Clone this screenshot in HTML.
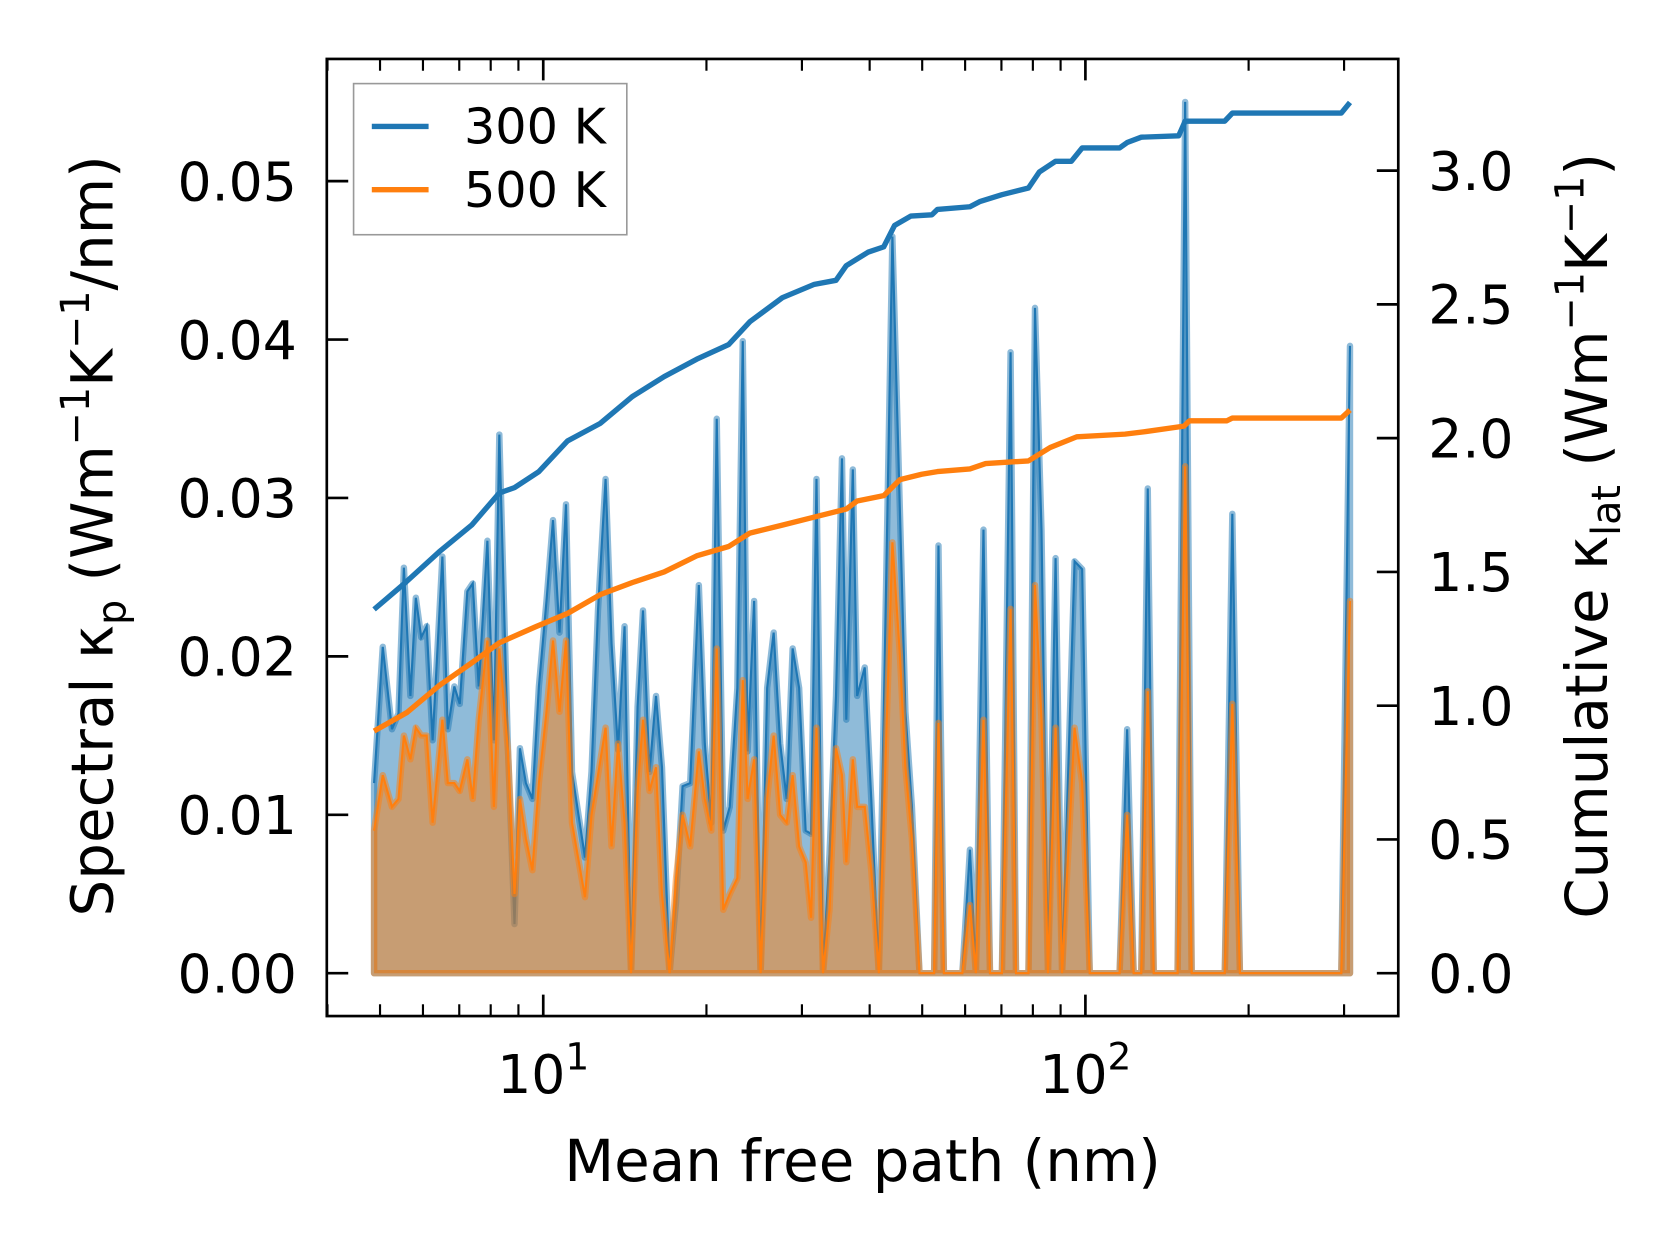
<!DOCTYPE html>
<html><head><meta charset="utf-8"><style>
html,body{margin:0;padding:0;background:#fff;}
svg{display:block;font-family:"DejaVu Sans","Liberation Sans",sans-serif;}
</style></head><body>
<svg id="chart" width="1679" height="1254" viewBox="0 0 1567 1170" preserveAspectRatio="none" xmlns="http://www.w3.org/2000/svg">
<g id="marks"></g>
<g id="axes"></g>
<rect x="305" y="55" width="1000" height="893" fill="none" stroke="#000" stroke-width="2.5"/>
<g>
<rect x="330" y="78" width="255" height="141" fill="#fff" fill-opacity="0.8" stroke="#999" stroke-width="1.5"/>
<line x1="347" y1="118" x2="400" y2="118" stroke="#1f77b4" stroke-width="5"/>
<text x="433" y="134" font-size="46">300 K</text>
<line x1="347" y1="177" x2="400" y2="177" stroke="#ff7f0e" stroke-width="5"/>
<text x="433" y="193" font-size="46">500 K</text>
</g>
<text x="805" y="1102" font-size="54" text-anchor="middle">Mean free path (nm)</text>
<text transform="translate(105,500) rotate(-90)" font-size="54" text-anchor="middle">Spectral κ<tspan font-size="37" dy="12">p</tspan><tspan dy="-12"> (Wm</tspan><tspan font-size="37" dy="-22">−1</tspan><tspan dy="22">K</tspan><tspan font-size="37" dy="-22">−1</tspan><tspan dy="22">/nm)</tspan></text>
<text transform="translate(1500,500) rotate(-90)" font-size="54" text-anchor="middle">Cumulative κ<tspan font-size="37" dy="12">lat</tspan><tspan dy="-12"> (Wm</tspan><tspan font-size="37" dy="-22">−1</tspan><tspan dy="22">K</tspan><tspan font-size="37" dy="-22">−1</tspan><tspan dy="22">)</tspan></text>
</svg>
<script>
// spectral data (log10 of mean free path in nm)
const specLogMfp = [.688,.704,.721,.733,.743,.755,.765,.775,.785,.796,.814,.824,.836,.846,.860,.870,.881,.897,.909,.919,.935,.947,.957,.968,.980,.992,1.006,1.018,1.030,1.042,1.053,1.077,1.089,1.101,1.115,1.126,1.138,1.150,1.162,1.174,1.184,1.196,1.208,1.219,1.233,1.245,1.257,1.271,1.287,1.298,1.310,1.320,1.332,1.344,1.358,1.368,1.377,1.389,1.401,1.413,1.425,1.437,1.449,1.460,1.472,1.484,1.494,1.504,1.516,1.528,1.540,1.551,1.559,1.571,1.579,1.593,1.605,1.619,1.630,1.644,1.658,1.668,1.680,1.694,1.721,1.729,1.739,1.773,1.787,1.798,1.812,1.824,1.846,1.862,1.872,1.895,1.907,1.919,1.931,1.945,1.957,1.980,1.994,2.008,2.063,2.077,2.089,2.103,2.115,2.126,2.170,2.184,2.196,2.257,2.271,2.285,2.472,2.488];
const spec300 = [.0120,.0206,.0154,.0164,.0256,.0175,.0237,.0212,.0219,.0147,.0263,.0154,.0181,.0170,.0241,.0246,.0181,.0273,.0147,.0340,.0141,.0031,.0142,.0120,.0110,.0181,.0235,.0286,.0215,.0296,.0127,.0073,.0127,.0229,.0312,.0208,.0141,.0219,0,.0168,.0229,.0127,.0175,.0130,0,.0045,.0118,.0120,.0245,.0145,.0095,.0350,.0090,.0105,.0180,.0399,.0140,.0235,0,.0180,.0215,.0145,.0110,.0205,.0180,.0090,.0088,.0312,0,.0075,.0175,.0325,.0160,.0318,.0175,.0193,.0110,0,.0200,.0465,.0290,.0165,.0105,0,0,.0270,0,0,.0078,0,.0280,0,0,.0392,0,0,.0420,.0280,0,.0262,0,.0260,.0255,0,0,.0154,0,0,.0306,0,0,.0550,0,0,.0290,0,0,.0396];
const spec500 = [.0090,.0125,.0105,.0110,.0150,.0135,.0155,.0150,.0150,.0095,.0160,.0120,.0120,.0115,.0135,.0110,.0160,.0210,.0105,.0205,.0140,.0050,.0110,.0085,.0065,.0120,.0165,.0210,.0165,.0210,.0095,.0048,.0100,.0125,.0155,.0080,.0145,.0095,0,.0115,.0160,.0115,.0130,.0050,0,.0060,.0100,.0080,.0140,.0110,.0090,.0205,.0040,.0050,.0060,.0185,.0110,.0135,0,.0110,.0150,.0100,.0095,.0125,.0080,.0070,.0035,.0155,0,.0040,.0142,.0125,.0070,.0135,.0105,.0105,.0065,0,.0120,.0272,.0200,.0130,.0085,0,0,.0158,0,0,.0043,0,.0160,0,0,.0230,0,0,.0245,.0160,0,.0155,0,.0155,.0120,0,0,.0100,0,0,.0178,0,0,.0320,0,0,.0170,0,0,.0235];
// cumulative data
const cum300LogMfp = [.688,.743,.808,.868,.919,.947,.992,1.045,1.105,1.164,1.223,1.283,1.342,1.381,1.441,1.500,1.540,1.559,1.599,1.628,1.648,1.678,1.717,1.727,1.787,1.806,1.846,1.895,1.915,1.945,1.974,1.994,2.063,2.077,2.103,2.172,2.184,2.257,2.271,2.472,2.488];
const cum300 = [1.36,1.455,1.575,1.675,1.795,1.815,1.875,1.99,2.055,2.155,2.23,2.295,2.35,2.435,2.525,2.575,2.59,2.645,2.695,2.715,2.795,2.83,2.835,2.855,2.865,2.885,2.91,2.935,2.995,3.035,3.035,3.085,3.085,3.105,3.125,3.13,3.185,3.185,3.215,3.215,3.255];
const cum500LogMfp = [.688,.749,.808,.868,.919,.986,1.045,1.105,1.164,1.223,1.283,1.342,1.381,1.441,1.500,1.559,1.579,1.628,1.658,1.698,1.727,1.787,1.816,1.895,1.935,1.984,2.073,2.113,2.182,2.192,2.261,2.271,2.472,2.488];
const cum500 = [.905,.975,1.075,1.16,1.235,1.295,1.345,1.415,1.46,1.5,1.56,1.595,1.645,1.675,1.705,1.735,1.765,1.785,1.845,1.865,1.875,1.885,1.905,1.915,1.965,2.005,2.015,2.025,2.045,2.065,2.065,2.075,2.075,2.105];
const leftTicks = [0,0.01,0.02,0.03,0.04,0.05];
const leftTickLabels = ["0.00","0.01","0.02","0.03","0.04","0.05"];
const rightTicks = [0,0.5,1,1.5,2,2.5,3];
const rightTickLabels = ["0.0","0.5","1.0","1.5","2.0","2.5","3.0"];
const xMajorDecades = [1,2];

const NS="http://www.w3.org/2000/svg";
const X0=305,X1=1305,Y0=55,Y1=948;
const sx=l=>507+(l-1)*506;
const syL=v=>908-v*14780;
const syR=v=>908-v*249.6;
const marks=document.getElementById('marks'), axes=document.getElementById('axes');
function mk(tag,attrs,parent){const e=document.createElementNS(NS,tag);for(const k in attrs)e.setAttribute(k,attrs[k]);parent.appendChild(e);return e;}
function areaPath(xs,ys){let d=`M${sx(xs[0])},${syL(0)}`;xs.forEach((x,i)=>d+=`L${sx(x)},${syL(ys[i])}`);d+=`L${sx(xs[xs.length-1])},${syL(0)}Z`;return d;}
function linePath(xs,ys,f){return xs.map((x,i)=>(i?'L':'M')+sx(x)+','+f(ys[i])).join('');}

const a3=mk('path',{d:areaPath(specLogMfp,spec300),fill:'#1f77b4','fill-opacity':0.5,stroke:'#1f77b4','stroke-opacity':0.5,'stroke-width':6,'stroke-linejoin':'round'},marks);


const l3=mk('path',{d:linePath(specLogMfp,spec300,syL),fill:'none',stroke:'#1f77b4','stroke-width':2},marks);


const a5=mk('path',{d:areaPath(specLogMfp,spec500),fill:'#ff7f0e','fill-opacity':0.5,stroke:'#ff7f0e','stroke-opacity':0.5,'stroke-width':6,'stroke-linejoin':'round'},marks);


const l5=mk('path',{d:linePath(specLogMfp,spec500,syL),fill:'none',stroke:'#ff7f0e','stroke-width':2},marks);


const c3=mk('path',{d:linePath(cum300LogMfp,cum300,syR),fill:'none',stroke:'#1f77b4','stroke-width':5,'stroke-linejoin':'round'},marks);


const c5=mk('path',{d:linePath(cum500LogMfp,cum500,syR),fill:'none',stroke:'#ff7f0e','stroke-width':5,'stroke-linejoin':'round'},marks);



leftTicks.forEach((v,i)=>{const y=syL(v);
 const t=mk('line',{x1:X0,x2:X0+20,y1:y,y2:y,stroke:'#000','stroke-width':2.5},axes);
 
 
 const tx=mk('text',{x:X0-28,y:y+18,'font-size':50,'text-anchor':'end'},axes);tx.textContent=leftTickLabels[i];
 
 
});
rightTicks.forEach((v,i)=>{const y=syR(v);
 const t=mk('line',{x1:X1-20,x2:X1,y1:y,y2:y,stroke:'#000','stroke-width':2.5},axes);
 
 
 const tx=mk('text',{x:X1+28,y:y+18,'font-size':50,'text-anchor':'start'},axes);tx.textContent=rightTickLabels[i];
 
 
});
for(let d=0;d<=2;d++){for(let m=1;m<=9;m++){const l=d+Math.log10(m);const x=sx(l);if(x<X0||x>X1)continue;
 const len=m===1?20:11;
 [[Y1,Y1-len],[Y0,Y0+len]].forEach(([a,b])=>{const t=mk('line',{x1:x,x2:x,y1:a,y2:b,stroke:'#000','stroke-width':m===1?2.5:2},axes);
  
  });
}}
xMajorDecades.forEach(d=>{const x=sx(d);
 const tx=mk('text',{x:x,y:1020,'font-size':50,'text-anchor':'middle'},axes);
 
 
 tx.textContent='10';
 const s=mk('tspan',{'font-size':35,dy:-22},tx);s.textContent=String(d);
});
</script>
</body></html>
